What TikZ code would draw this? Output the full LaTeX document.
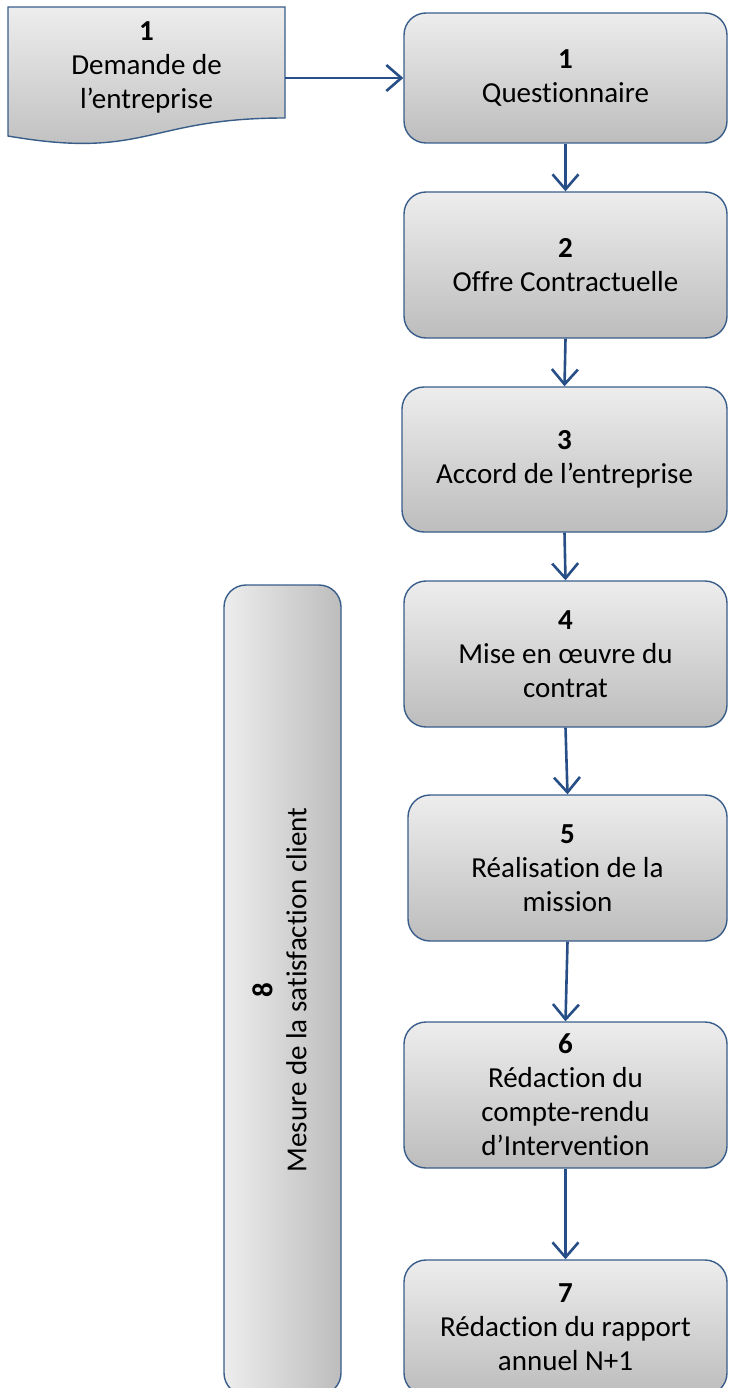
\documentclass[tikz,border=0pt]{standalone}
\usepackage{fontspec}
\setmainfont{Carlito}[Ligatures=NoCommon]
\usetikzlibrary{arrows.meta}
\definecolor{boxline}{RGB}{56,93,138}
\definecolor{flowblue}{RGB}{40,78,135}
\tikzset{
	stepbox/.style={rectangle, rounded corners=22pt, draw=boxline, line width=1.4pt, top color=black!7, bottom color=black!26, align=center, minimum width=323pt, minimum height=146pt, inner sep=0pt},
	docshape/.style={draw=boxline, line width=1.4pt, top color=black!7, bottom color=black!26},
	sidebox/.style={rectangle, rounded corners=22pt, draw=boxline, line width=1.4pt, left color=black!7, right color=black!26, minimum width=117pt, inner sep=0pt},
	flowline/.style={draw=flowblue, line width=2.6pt}
}

\begin{document}
\begin{tikzpicture}[x=1pt, y=-1pt, font=\fontsize{29}{34}\selectfont, >={Straight Barb[length=15pt,width=26pt]}]
		\useasboundingbox (0,0) rectangle (728,1388);
		\clip (0,0) rectangle (728,1388);
		\draw[docshape] (8,7) -- (285,7) -- (285,118) .. controls (146.5,118) and (146.5,160) .. (8,136) -- cycle;
		\node[align=center, minimum width=277pt, inner sep=0pt] at (146.5,67) (demande) {\textbf{1}\\Demande de\\l’entreprise};
		\node[stepbox, minimum height=130pt] at (565.5,78) (quest) {\textbf{1}\\Questionnaire};
		\node[stepbox] at (565.5,265) (offre) {\textbf{2}\\Offre Contractuelle};
		\node[stepbox, minimum width=325pt, minimum height=145pt] at (564.5,459.5) (accord) {\textbf{3}\\Accord de l’entreprise};
		\node[stepbox] at (565.5,654) (mise) {\textbf{4}\\Mise en œuvre du\\contrat};
		\node[stepbox, minimum width=319pt] at (567.5,868) (mission) {\textbf{5}\\Réalisation de la\\mission};
		\node[stepbox] at (565.5,1095) (cr) {\textbf{6}\\Rédaction du\\compte-rendu\\d’Intervention};
		\node[stepbox, minimum height=135pt] at (565.5,1327.5) (rapport) {\textbf{7}\\Rédaction du rapport\\annuel N+1};
		\node[sidebox, minimum height=810pt] at (282.5,990) (mesure) {\rotatebox{90}{\begin{tabular}{@{}c@{}}\textbf{8}\\Mesure de la satisfaction client\end{tabular}}};

		%Lines
		\draw[->, flowline] (demande.east |- quest.west) -- (quest.west);
		\draw[->, flowline] (quest.south) -- (offre.north);
		\draw[->, flowline] (offre.south) -- (accord.north);
		\draw[->, flowline] (accord.south) -- (mise.north);
		\draw[->, flowline] (mise.south) -- (mission.north);
		\draw[->, flowline] (mission.south) -- (cr.north);
		\draw[->, flowline] (cr.south) -- (rapport.north);
	\end{tikzpicture}
\end{document}
